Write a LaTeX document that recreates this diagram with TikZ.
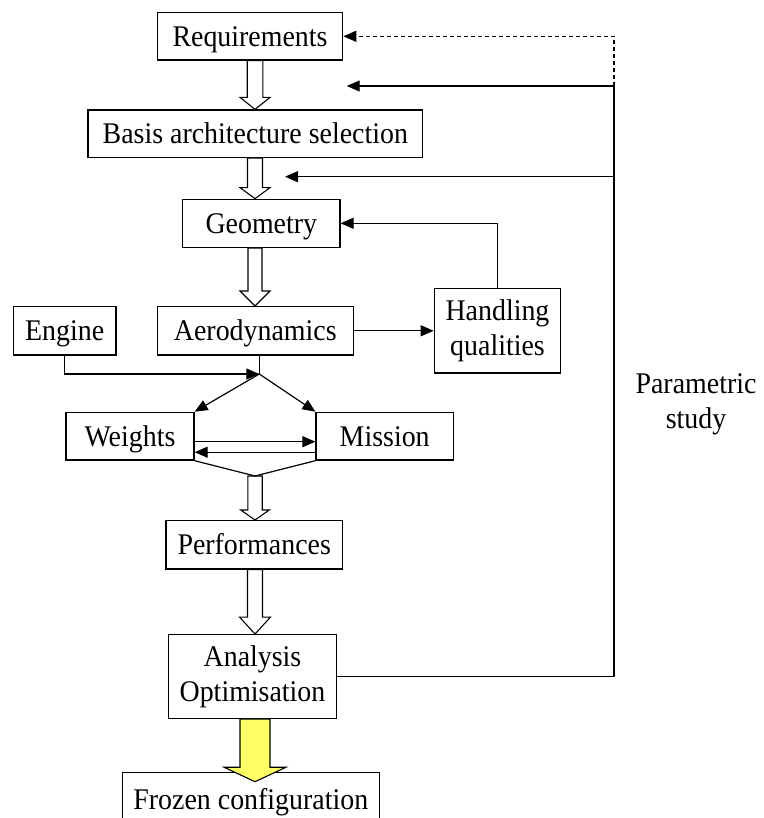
\documentclass[tikz,border=0pt]{standalone}
\usepackage{fontspec}
\setmainfont{Liberation Serif}[FakeStretch=0.93]
\usetikzlibrary{arrows.meta,calc}
\definecolor{frozenfill}{RGB}{255,255,102}
\tikzset{
  box/.style={draw, line width=1.3pt, inner sep=0pt, text height=20pt, text depth=0pt,
              font=\fontsize{30}{35}\selectfont},
  twoline/.style={align=center, text height=, text depth=},
  plain/.style={inner sep=0pt, align=center, font=\fontsize{30}{35}\selectfont},
  link/.style={line width=1.2pt},
  arr/.style={link, -{Triangle[length=13pt,width=11pt]}},
  hollow/.style={draw, line width=1.1pt, fill=white},
  golden/.style={draw, line width=1.1pt, fill=frozenfill},
}
% block arrow: style, start, tip, shaft half-width, head half-width, head length
\newcommand{\blockarrow}[6]{%
  \path[#1] let \p1=(#2), \p2=(#3) in
    (\x1-#4,\y1) -- (\x1+#4,\y1) -- (\x1+#4,\y2+#6) -- (\x1+#5,\y2+#6)
    -- (\x1,\y2) -- (\x1-#5,\y2+#6) -- (\x1-#4,\y2+#6) -- cycle;}
\begin{document}
\begin{tikzpicture}[x=1pt,y=-1pt]
  \useasboundingbox (0,0) rectangle (763,818);
  \clip (0,0) rectangle (763,818);

  % process boxes
  \node[box, minimum width=185.4pt, minimum height=47.3pt] (req) at (250,36.3) {Requirements};
  \node[box, minimum width=334.7pt, minimum height=47.3pt] (basis) at (255.3,133.7) {Basis architecture selection};
  \node[box, minimum width=157.3pt, minimum height=48pt] (geom) at (261.3,223.3) {Geometry};
  \node[box, minimum width=196pt, minimum height=48.3pt] (aero) at (255.3,330.8) {Aerodynamics};
  \node[box, minimum width=102.7pt, minimum height=48.3pt] (engine) at (64.7,330.8) {Engine};
  \node[box, twoline, minimum width=126.4pt, minimum height=84.3pt] (handling) at (497.5,330.8) {Handling\\qualities};
  \node[box, minimum width=128pt, minimum height=47.7pt] (weights) at (130,436.2) {Weights};
  \node[box, minimum width=137.3pt, minimum height=47.7pt] (mission) at (384.7,436.2) {Mission};
  \node[box, minimum width=176.3pt, minimum height=48.3pt] (perf) at (254.2,544.8) {Performances};
  \node[box, twoline, minimum width=168.4pt, minimum height=83.6pt] (analysis) at (252.5,676.5) {Analysis\\Optimisation};
  \node[box, minimum width=257pt, minimum height=54pt, anchor=north] (frozen) at (250.8,771.7) {Frozen configuration};

  \node[plain] (param) at (696,404) {Parametric\\study};

  % helper coordinates
  \coordinate (ax) at (255,0);
  \coordinate (jn) at (259.3,374);
  \coordinate (vj) at (255,476);
  \coordinate (loopA) at (614,176.7);
  \coordinate (loopB) at (614,86);
  \coordinate (tipA) at (285,176.7);
  \coordinate (tipB) at (346.7,86);
  \coordinate (ytip) at (254.3,781.7);

  % main flow block arrows
  \blockarrow{hollow}{ax |- req.south}{ax |- basis.north}{7.8pt}{15pt}{12pt}
  \blockarrow{hollow}{ax |- basis.south}{ax |- geom.north}{7.5pt}{15pt}{11pt}
  \blockarrow{hollow}{ax |- geom.south}{ax |- aero.north}{7pt}{15pt}{15pt}
  \blockarrow{hollow}{vj}{ax |- perf.north}{7.2pt}{14.2pt}{10pt}
  \blockarrow{hollow}{ax |- perf.south}{ax |- analysis.north}{7.5pt}{15.5pt}{17pt}
  \blockarrow{golden}{ax |- analysis.south}{ytip}{15pt}{31pt}{14.5pt}

  % aerodynamics / handling loop
  \draw[arr] (aero.east) -- (handling.west);
  \draw[arr] (handling.north) |- (geom.east);

  % engine and aerodynamics feed weights and mission
  \draw[link] (jn |- aero.south) -- (jn);
  \draw[arr] (engine.south) |- (jn);
  \draw[arr] (jn) -- (weights.north east);
  \draw[arr] (jn) -- (mission.north west);
  \draw[arr] ($(weights.east)+(0,5.5)$) -- ($(mission.west)+(0,5.5)$);
  \draw[arr] ($(mission.west)+(0,16)$) -- ($(weights.east)+(0,16)$);
  \draw[link] (weights.south east) -- (vj) -- (mission.south west);

  % parametric study loop
  \draw[link] (analysis.east) -| (loopA) -- (loopB);
  \draw[arr] (loopA) -- (tipA);
  \draw[arr] (loopB) -- (tipB);
  \draw[arr, line width=1.4pt, dash pattern=on 4pt off 3pt] (loopB) |- (req.east);
\end{tikzpicture}
\end{document}
